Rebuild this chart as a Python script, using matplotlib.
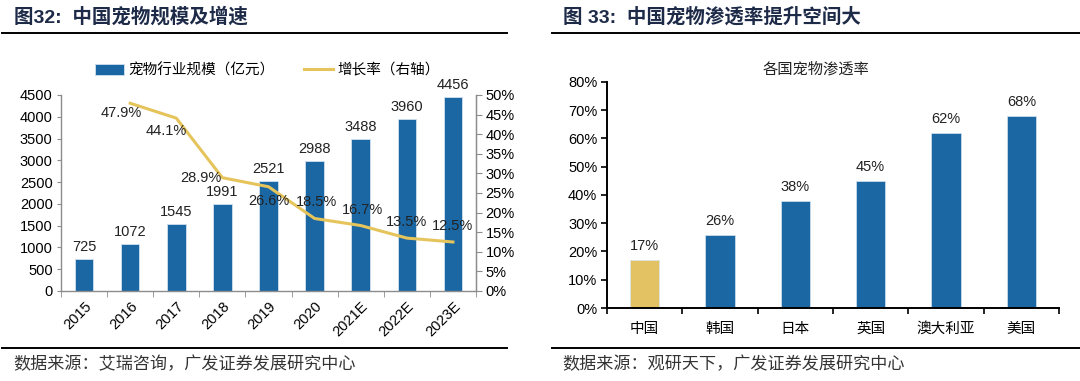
import matplotlib
matplotlib.use("Agg")
import matplotlib.pyplot as plt
from matplotlib.lines import Line2D
import numpy as np

plt.rcParams['font.family'] = ['Liberation Sans', 'Noto Sans CJK SC']

# left chart data
years = ['2015', '2016', '2017', '2018', '2019', '2020', '2021E', '2022E', '2023E']
market_size = [725, 1072, 1545, 1991, 2521, 2988, 3488, 3960, 4456]
growth_years = ['2016', '2017', '2018', '2019', '2020', '2021E', '2022E', '2023E']
growth_rate = [47.9, 44.1, 28.9, 26.6, 18.5, 16.7, 13.5, 12.5]

# right chart data
countries = ['中国', '韩国', '日本', '英国', '澳大利亚', '美国']
penetration = [17, 26, 38, 45, 62, 68]

BLUE = '#1b67a3'
GOLD = '#e2c262'
LINE_GOLD = '#e6c45c'
TITLE_C = '#1d2a48'
AX_GRAY = '#8c8c8c'

fig = plt.figure(figsize=(10.8, 3.81), dpi=100)

def hline(x0, x1, y, lw=1.4):
    fig.add_artist(Line2D([x0 / 1080, x1 / 1080], [1 - y / 381, 1 - y / 381],
                          color='black', lw=lw, transform=fig.transFigure))

# ---------- left panel ----------
fig.text(14 / 1080, 1 - 17 / 381, '图32:  中国宠物规模及增速', fontsize=14, fontweight='bold',
         color=TITLE_C, va='center', ha='left')
hline(2, 507, 33)
hline(2, 507, 348)
fig.text(13 / 1080, 1 - 364 / 381, '数据来源：艾瑞咨询，广发证券发展研究中心', fontsize=12.3,
         color='#333333', va='center', ha='left')

ax = fig.add_axes([61 / 1080, 90 / 381, 415 / 1080, 196 / 381])
x = np.arange(len(years))
ax.bar(x, market_size, width=0.4, color=BLUE, edgecolor='#cfe0ee', linewidth=0.6,
       label='宠物行业规模（亿元）', zorder=2)
for xi, v in zip(x, market_size):
    ax.annotate(str(v), (xi, v), xytext=(0, 5), textcoords='offset pixels',
                ha='center', va='bottom', fontsize=10.5, color='#222222')
ax.set_xlim(-0.5, len(years) - 0.5)
ax.set_ylim(0, 4500)
ax.set_yticks(range(0, 4501, 500))
ax.set_xticks(x)
ax.set_xticklabels(years, rotation=45, ha='right', rotation_mode='anchor', fontsize=10.5)
ax.set_xticks(np.arange(-0.5, len(years)), minor=True)
ax.tick_params(axis='x', which='major', length=0, pad=6)
ax.tick_params(axis='x', which='minor', length=4, color=AX_GRAY, direction='out')
ax.tick_params(axis='y', labelsize=10.5, length=3, color=AX_GRAY, direction='out', pad=3)
ax.spines['top'].set_visible(False)
for s in ['left', 'bottom', 'right']:
    ax.spines[s].set_color(AX_GRAY)
    ax.spines[s].set_linewidth(1.0)

ax2 = ax.twinx()
gx = [years.index(g) for g in growth_years]
ax2.plot(gx, growth_rate, color=LINE_GOLD, lw=2.2, label='增长率（右轴）', zorder=3)
ax2.set_ylim(0, 50)
ax2.set_yticks(range(0, 51, 5))
ax2.set_yticklabels([f'{t}%' for t in range(0, 51, 5)])
ax2.tick_params(axis='y', labelsize=10.5, length=4, color=AX_GRAY, direction='out', pad=3)
for s in ['top', 'left', 'bottom']:
    ax2.spines[s].set_visible(False)
ax2.spines['right'].set_color(AX_GRAY)
# label offsets (pixels) for the growth labels
label_offsets = [(-9, -10), (-10, -13), (-22, 0), (0, -14), (2, 16), (2, 16), (0, 16), (0, 16)]
for xi, v, off in zip(gx, growth_rate, label_offsets):
    ax2.annotate(f'{v}%', (xi, v), xytext=off, textcoords='offset pixels',
                 ha='center', va='center', fontsize=10.5, color='#222222')

h1, l1 = ax.get_legend_handles_labels()
h2, l2 = ax2.get_legend_handles_labels()
fig.legend(h1 + h2, l1 + l2, loc='center', bbox_to_anchor=(267 / 1080, 1 - 70 / 381), ncol=2,
           frameon=False, fontsize=10.5, handlelength=2.0, handleheight=0.8, columnspacing=2.0,
           handletextpad=0.3)

# ---------- right panel ----------
fig.text(563 / 1080, 1 - 17 / 381, '图 33:  中国宠物渗透率提升空间大', fontsize=14,
         fontweight='bold', color=TITLE_C, va='center', ha='left')
hline(552, 1080, 33)
hline(552, 1080, 348)
fig.text(562 / 1080, 1 - 364 / 381, '数据来源：观研天下，广发证券发展研究中心', fontsize=12.3,
         color='#333333', va='center', ha='left')

bx = fig.add_axes([607 / 1080, 73 / 381, 452 / 1080, 226 / 381])
cx = np.arange(len(countries))
colors = [GOLD] + [BLUE] * (len(countries) - 1)
bx.bar(cx, penetration, width=0.39, color=colors, edgecolor='#d6e3ee', linewidth=0.5)
for xi, v in zip(cx, penetration):
    bx.annotate(f'{v}%', (xi, v), xytext=(0, 7), textcoords='offset pixels',
                ha='center', va='bottom', fontsize=10.5, color='#222222')
bx.set_xlim(-0.5, len(countries) - 0.5)
bx.set_ylim(0, 80)
bx.set_yticks(range(0, 81, 10))
bx.set_yticklabels([f'{t}%' for t in range(0, 81, 10)])
bx.set_xticks(cx)
bx.set_xticklabels(countries, fontsize=10.5)
bx.set_xticks(np.arange(-0.5, len(countries)), minor=True)
bx.tick_params(axis='x', which='major', length=0, pad=10)
bx.tick_params(axis='x', which='minor', length=4, width=1.2, direction='out')
bx.tick_params(axis='y', labelsize=10.5, length=4, width=1.2, direction='out', pad=3)
bx.spines['top'].set_visible(False)
bx.spines['right'].set_visible(False)
bx.spines['left'].set_linewidth(1.4)
bx.spines['bottom'].set_linewidth(1.4)
fig.text(816 / 1080, 1 - 69 / 381, '各国宠物渗透率', fontsize=11, ha='center', va='center',
         color='#222222')

fig.savefig('out.png', dpi=100)
